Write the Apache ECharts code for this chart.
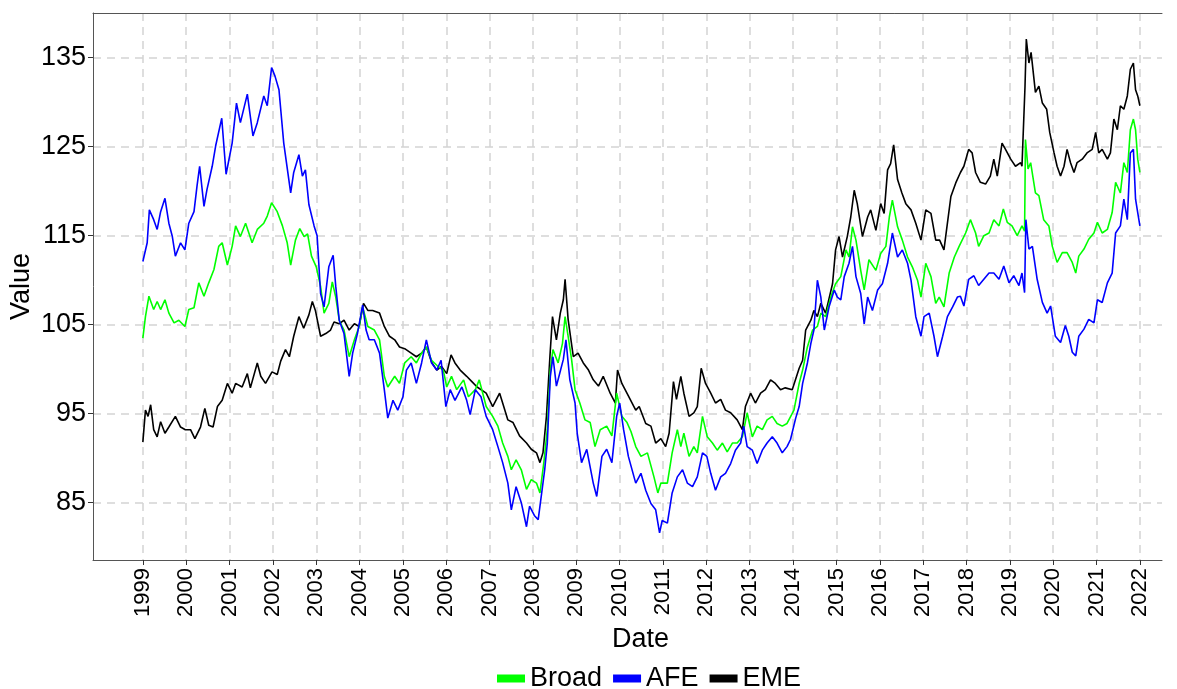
<!DOCTYPE html>
<html>
<head>
<meta charset="utf-8">
<script src="https://cdn.jsdelivr.net/npm/echarts@6/dist/echarts.min.js"></script>
<style>
  html, body { margin: 0; padding: 0; background: #fff; }
  #chart { width: 1177px; height: 689px; }
</style>
</head>
<body>
<div id="chart"></div>
<script>
// tick labels
var yearTicks = [1999, 2000, 2001, 2002, 2003, 2004, 2005, 2006, 2007, 2008, 2009, 2010,
  2011, 2012, 2013, 2014, 2015, 2016, 2017, 2018, 2019, 2020, 2021, 2022];
var valueTicks = [85, 95, 105, 115, 125, 135];

// Broad (decimal years)
var broadYears = [1999.00,1999.06,1999.14,1999.25,1999.33,1999.41,1999.51,1999.60,1999.72,1999.83,1999.97,
  2000.06,2000.18,2000.29,2000.41,2000.52,2000.64,2000.75,2000.83,2000.95,
  2001.06,2001.14,2001.25,2001.37,2001.52,2001.64,2001.79,2001.87,2001.97,
  2002.10,2002.22,2002.33,2002.41,2002.52,2002.62,2002.72,2002.80,2002.89,
  2003.00,2003.10,2003.18,2003.29,2003.37,2003.45,2003.53,2003.64,2003.76,2003.88,2003.99,
  2004.07,2004.19,2004.34,2004.46,2004.57,2004.65,2004.81,2004.92,
  2005.04,2005.19,2005.31,2005.43,2005.54,2005.66,2005.81,2005.93,
  2006.01,2006.12,2006.24,2006.40,2006.51,2006.67,2006.76,2006.92,
  2007.07,2007.19,2007.30,2007.42,2007.50,2007.61,2007.73,2007.85,2007.96,
  2008.08,2008.16,2008.25,2008.33,2008.40,2008.46,2008.58,2008.68,2008.74,2008.81,2008.89,2008.97,
  2009.08,2009.20,2009.32,2009.43,2009.55,2009.70,2009.82,2009.93,
  2010.05,2010.17,2010.26,2010.37,2010.49,2010.64,2010.79,2010.88,2010.95,
  2011.10,2011.21,2011.33,2011.41,2011.48,2011.60,2011.71,2011.79,2011.91,
  2012.02,2012.14,2012.25,2012.37,2012.48,2012.60,2012.71,2012.83,2012.94,
  2013.06,2013.17,2013.29,2013.40,2013.52,2013.63,2013.75,2013.86,
  2014.02,2014.14,2014.22,2014.33,2014.45,2014.56,2014.64,2014.75,2014.87,2014.98,
  2015.10,2015.22,2015.29,2015.37,2015.45,2015.56,2015.64,2015.75,2015.91,
  2016.02,2016.14,2016.22,2016.29,2016.41,2016.52,2016.64,2016.75,2016.87,2016.95,
  2017.06,2017.18,2017.29,2017.37,2017.48,2017.60,2017.72,2017.83,2017.98,
  2018.09,2018.21,2018.28,2018.40,2018.52,2018.63,2018.75,2018.85,2018.94,
  2019.05,2019.17,2019.28,2019.34,2019.36,2019.42,2019.48,2019.59,2019.67,2019.78,2019.90,2019.98,
  2020.09,2020.21,2020.32,2020.44,2020.52,2020.59,2020.71,2020.82,2020.94,
  2021.02,2021.13,2021.25,2021.36,2021.44,2021.55,2021.63,2021.71,2021.78,2021.85,2021.90,2021.95,2022.00];
var broadValues = [103.5,105.9,108.2,106.7,107.6,106.7,107.8,106.3,105.2,105.5,104.8,
  106.7,106.9,109.7,108.2,109.7,111.2,113.8,114.2,111.7,
  113.8,116.1,114.9,116.4,114.2,115.7,116.4,117.2,118.7,
  117.7,116.1,114.2,111.7,114.5,115.8,114.9,115.2,112.7,
  111.5,109.3,106.3,107.4,109.8,108.1,105.5,104.4,101.4,103.3,104.8,
  107.0,104.8,104.4,103.3,99.2,98.0,99.2,98.4,
  100.7,101.4,100.7,101.8,102.5,101.0,100.3,99.9,
  98.0,99.2,97.7,98.8,96.9,97.7,98.8,95.8,
  94.7,93.6,91.7,90.2,88.7,89.8,88.7,86.5,87.6,
  87.2,86.1,89.5,93.2,100.0,102.2,100.7,102.9,105.9,103.7,101.1,97.7,
  96.2,94.3,94.0,91.3,93.2,93.6,92.5,97.3,
  94.7,94.0,93.0,91.3,90.2,90.6,87.9,86.1,87.2,
  87.2,90.6,93.2,91.3,92.8,90.2,91.3,90.6,94.7,
  92.4,91.7,90.9,91.7,90.7,91.7,91.7,92.4,95.1,
  92.4,93.6,93.2,94.3,94.7,93.9,93.6,93.9,
  95.4,98.4,99.9,102.5,104.4,104.8,106.3,105.9,108.1,109.6,
  110.4,113.4,112.6,116.0,114.5,111.1,108.9,112.3,111.1,
  113.0,113.8,117.1,119.0,116.0,114.5,112.6,111.5,110.0,108.1,
  111.9,110.4,107.4,108.1,107.0,110.8,112.6,113.8,115.3,
  116.8,115.3,113.8,115.0,115.3,116.8,116.1,118.0,116.5,
  116.1,115.0,116.1,115.5,125.8,122.5,123.2,119.8,119.5,116.8,116.1,113.8,
  112.0,113.1,113.1,112.0,110.8,112.7,113.5,114.6,115.3,
  116.5,115.3,115.7,117.6,121.0,119.8,123.2,122.1,126.9,128.1,126.9,123.6,122.1];

// AFE
var afeYears = [1999.00,1999.10,1999.15,1999.25,1999.33,1999.41,1999.51,1999.60,1999.68,1999.75,1999.87,1999.97,
  2000.06,2000.18,2000.25,2000.31,2000.41,2000.48,2000.60,2000.68,2000.82,2000.92,
  2001.06,2001.16,2001.25,2001.41,2001.54,2001.64,2001.79,2001.87,2001.97,
  2002.05,2002.14,2002.25,2002.41,2002.48,2002.60,2002.68,2002.75,2002.83,2002.95,
  2003.02,2003.10,2003.18,2003.29,2003.39,2003.45,2003.53,2003.64,2003.76,2003.84,2003.95,
  2004.07,2004.15,2004.22,2004.34,2004.46,2004.57,2004.65,2004.77,2004.88,
  2005.00,2005.08,2005.19,2005.31,2005.43,2005.54,2005.66,2005.78,2005.88,2005.99,
  2006.09,2006.20,2006.36,2006.47,2006.55,2006.67,2006.80,2006.92,
  2007.07,2007.19,2007.30,2007.42,2007.50,2007.61,2007.73,2007.85,2007.92,
  2008.04,2008.12,2008.19,2008.27,2008.33,2008.40,2008.46,2008.54,2008.62,2008.70,2008.76,2008.85,2008.97,
  2009.02,2009.12,2009.24,2009.39,2009.47,2009.59,2009.70,2009.82,2009.93,
  2010.00,2010.09,2010.20,2010.37,2010.49,2010.60,2010.72,2010.83,2010.92,2010.98,
  2011.10,2011.21,2011.33,2011.45,2011.56,2011.68,2011.79,2011.91,
  2012.01,2012.10,2012.21,2012.33,2012.44,2012.56,2012.67,2012.79,2012.86,2012.94,
  2013.06,2013.17,2013.29,2013.40,2013.52,2013.63,2013.75,2013.86,2013.94,
  2014.06,2014.14,2014.22,2014.33,2014.41,2014.48,2014.56,2014.64,2014.72,2014.83,2014.95,
  2015.02,2015.10,2015.18,2015.29,2015.37,2015.45,2015.56,2015.64,2015.72,2015.83,2015.95,
  2016.06,2016.18,2016.29,2016.41,2016.52,2016.64,2016.72,2016.83,2016.95,
  2017.02,2017.14,2017.25,2017.33,2017.45,2017.56,2017.68,2017.79,2017.86,2017.94,
  2018.05,2018.17,2018.28,2018.40,2018.52,2018.63,2018.75,2018.86,2018.98,
  2019.09,2019.21,2019.28,2019.34,2019.37,2019.44,2019.52,2019.63,2019.75,2019.86,2019.94,
  2020.05,2020.17,2020.28,2020.36,2020.44,2020.52,2020.59,2020.71,2020.82,2020.94,
  2021.02,2021.13,2021.25,2021.36,2021.44,2021.55,2021.63,2021.71,2021.78,2021.85,2021.90,2021.95,2022.00];
var afeValues = [112.1,114.2,117.9,116.8,115.7,117.7,119.2,116.4,114.9,112.7,114.2,113.4,
  116.4,117.7,120.6,122.8,118.3,120.2,122.8,125.1,128.2,121.9,
  125.4,129.9,127.7,130.9,126.2,127.7,130.7,129.6,133.9,
  132.9,131.4,125.4,119.8,122.1,124.1,121.7,122.4,118.5,116.1,
  115.0,108.5,107.0,111.5,112.8,109.3,105.5,104.0,99.2,101.8,104.0,
  107.2,104.4,103.3,103.3,101.8,97.7,94.5,96.5,95.4,
  96.9,99.9,100.7,98.4,100.7,103.3,100.7,99.9,101.0,95.8,
  97.7,96.5,98.0,96.5,94.9,97.7,96.9,94.7,
  93.2,91.3,89.5,87.2,84.2,86.8,85.0,82.3,84.6,
  83.5,83.1,85.7,88.7,91.7,99.2,101.4,98.1,99.6,101.1,103.3,98.8,96.2,
  92.8,89.5,91.0,87.2,85.7,90.2,91.0,89.5,94.7,
  96.2,93.2,90.2,87.2,88.3,86.4,84.9,84.2,81.6,83.0,
  82.7,86.1,87.9,88.7,87.2,86.8,87.9,90.6,
  90.2,88.3,86.4,87.9,88.3,89.4,90.9,91.7,93.6,91.3,
  90.9,89.4,90.9,91.7,92.4,91.7,90.6,91.3,92.1,
  94.5,95.8,98.4,100.7,102.9,104.4,110.0,108.1,104.4,107.0,108.9,
  108.1,107.8,110.4,111.9,113.8,110.4,108.5,105.1,108.1,106.6,108.9,
  109.6,111.9,115.3,112.6,113.4,111.9,110.0,105.9,103.7,
  105.9,106.3,103.7,101.4,103.7,105.9,107.0,108.1,108.2,107.1,
  110.1,110.5,109.4,110.1,110.8,110.8,110.1,111.6,109.7,
  110.5,109.4,110.8,108.6,116.8,113.5,113.8,110.1,107.5,106.3,107.1,
  103.7,103.0,104.9,103.7,101.9,101.5,103.7,104.5,105.6,105.2,
  107.8,107.5,109.7,110.8,115.3,116.1,119.1,116.8,124.3,124.7,119.1,117.6,116.1];

// EME
var emeYears = [1999.00,1999.06,1999.12,1999.18,1999.25,1999.33,1999.41,1999.51,1999.60,1999.75,1999.87,1999.98,
  2000.10,2000.20,2000.33,2000.43,2000.52,2000.62,2000.72,2000.83,2000.95,
  2001.06,2001.14,2001.29,2001.41,2001.48,2001.64,2001.72,2001.83,2001.98,
  2002.10,2002.18,2002.29,2002.38,2002.48,2002.60,2002.71,2002.83,2002.91,2002.98,
  2003.10,2003.22,2003.33,2003.41,2003.53,2003.64,2003.76,2003.88,2003.99,
  2004.09,2004.19,2004.30,2004.46,2004.57,2004.69,2004.81,2004.92,
  2005.04,2005.19,2005.31,2005.43,2005.54,2005.66,2005.78,2005.89,
  2006.01,2006.11,2006.20,2006.32,2006.47,2006.59,2006.71,2006.92,
  2007.07,2007.23,2007.30,2007.42,2007.54,2007.69,2007.85,2007.96,
  2008.08,2008.16,2008.23,2008.31,2008.39,2008.45,2008.54,2008.63,2008.70,2008.74,2008.81,2008.93,
  2009.04,2009.16,2009.28,2009.39,2009.51,2009.62,2009.78,2009.90,2009.95,
  2010.05,2010.20,2010.37,2010.45,2010.60,2010.72,2010.83,2010.95,
  2011.06,2011.14,2011.24,2011.31,2011.41,2011.48,2011.60,2011.71,2011.79,2011.88,2011.98,
  2012.10,2012.21,2012.33,2012.44,2012.56,2012.71,2012.83,2012.90,
  2013.02,2013.13,2013.25,2013.36,2013.48,2013.59,2013.71,2013.82,2013.98,
  2014.14,2014.22,2014.29,2014.41,2014.48,2014.56,2014.64,2014.75,2014.91,2014.98,
  2015.06,2015.14,2015.25,2015.33,2015.41,2015.48,2015.60,2015.72,2015.79,2015.91,
  2016.02,2016.10,2016.18,2016.25,2016.32,2016.41,2016.51,2016.60,2016.72,2016.83,2016.95,
  2017.06,2017.18,2017.29,2017.38,2017.48,2017.56,2017.64,2017.75,2017.86,2017.94,
  2018.05,2018.13,2018.21,2018.32,2018.44,2018.55,2018.63,2018.71,2018.82,2018.90,
  2019.02,2019.13,2019.25,2019.28,2019.35,2019.38,2019.44,2019.49,2019.59,2019.67,2019.75,2019.85,2019.92,
  2020.02,2020.09,2020.17,2020.25,2020.32,2020.40,2020.48,2020.55,2020.67,2020.78,2020.90,2020.98,
  2021.05,2021.13,2021.25,2021.32,2021.40,2021.48,2021.55,2021.63,2021.71,2021.78,2021.85,2021.90,2021.95,2022.00];
var emeValues = [91.8,95.4,94.7,96.0,93.2,92.4,94.1,92.8,93.5,94.7,93.5,93.2,
  93.2,92.2,93.5,95.6,93.7,93.5,95.8,96.5,98.4,
  97.3,98.4,98.0,99.5,97.9,100.7,99.2,98.4,99.7,
  99.4,100.9,102.2,101.4,103.7,105.9,104.6,106.1,107.6,106.6,
  103.7,104.0,104.4,105.3,105.1,105.5,104.4,105.1,104.8,
  107.4,106.6,106.6,106.3,104.8,103.7,103.3,102.5,
  102.3,101.8,101.4,101.8,102.5,100.8,99.9,100.3,
  99.5,101.6,100.7,99.9,99.2,98.6,98.0,97.3,
  95.8,97.3,96.2,94.3,94.0,92.5,91.7,91.0,
  90.6,89.5,90.6,94.7,101.4,105.9,103.3,106.3,107.8,110.1,105.6,101.4,
  101.8,100.7,99.9,98.8,98.1,99.2,97.3,96.2,99.9,
  98.4,97.0,95.4,95.8,93.9,93.6,91.7,92.2,
  91.3,92.8,98.6,96.6,99.2,97.3,94.7,95.1,95.8,100.1,98.4,
  97.3,96.2,96.6,95.4,95.1,94.3,93.2,95.8,
  97.3,96.2,97.3,97.7,98.8,98.4,97.7,97.9,97.7,
  100.1,101.0,104.4,105.5,106.6,105.9,107.4,106.3,109.6,113.4,
  114.9,112.6,114.9,117.1,120.1,118.6,114.9,117.1,117.9,115.6,
  118.6,117.5,122.4,123.1,125.2,121.3,119.8,118.6,117.9,116.4,114.5,
  117.9,117.5,114.5,114.5,113.4,116.4,119.4,120.9,122.1,122.8,
  124.7,124.3,122.1,121.0,120.8,121.7,123.6,121.7,125.4,124.7,
  123.6,122.8,123.2,122.8,131.8,137.1,134.4,135.6,131.1,131.8,129.9,129.2,126.6,
  124.3,122.8,121.7,122.8,124.7,123.2,122.1,123.2,123.6,124.3,124.7,126.6,
  124.3,124.7,123.6,124.3,128.1,126.9,129.6,129.2,130.7,133.7,134.4,131.4,130.7,129.6];

var fontFam = '"Liberation Sans", Arial, sans-serif';

function pairs(xs, ys) {
  var out = [];
  for (var i = 0; i < xs.length; i++) {
    out.push([xs[i], ys[i]]);
  }
  return out;
}

var myChart = echarts.init(document.getElementById("chart"), null, { renderer: "canvas" });
var option = {
  animation: false,
  backgroundColor: "#fff",
  textStyle: { fontFamily: fontFam },
  grid: { left: 93, right: 15, top: 13, bottom: 129, containLabel: false, outerBoundsMode: "none" },
  legend: {
    data: [
      { name: "Broad", icon: "rect" },
      { name: "AFE", icon: "rect" },
      { name: "EME", icon: "rect" }
    ],
    left: 492,
    top: 660,
    itemWidth: 28,
    itemHeight: 8,
    itemGap: 11,
    textStyle: { fontSize: 27, color: "#000", fontFamily: fontFam, padding: [0, 0, 0, 0] }
  },
  xAxis: [
    {
      type: "value",
      min: 1997.85,
      max: 2022.51,
      name: "Date",
      nameLocation: "middle",
      nameGap: 66,
      nameMoveOverlap: false,
      nameTextStyle: { fontSize: 27, color: "#000", fontFamily: fontFam, padding: [0, 0, 0, 26] },
      axisLine: { show: true, lineStyle: { color: "#555", width: 1 } },
      axisTick: { show: true, length: 5, customValues: yearTicks, lineStyle: { color: "#333" } },
      axisLabel: {
        customValues: yearTicks,
        rotate: 90,
        margin: 8,
        fontSize: 22,
        color: "#000",
        fontFamily: fontFam,
        formatter: function (v) { return String(v); }
      },
      splitLine: { show: true, lineStyle: { color: "#d3d3d3", width: 1.5, type: [8, 6] } }
    },
    {
      type: "value",
      position: "top",
      min: 1997.85,
      max: 2022.51,
      axisLine: { show: true, lineStyle: { color: "#555", width: 1 } },
      axisTick: { show: false },
      axisLabel: { show: false },
      splitLine: { show: false }
    }
  ],
  yAxis: {
    type: "value",
    min: 78.56,
    max: 140.02,
    name: "Value",
    nameLocation: "middle",
    nameGap: 58,
    nameMoveOverlap: false,
    nameTextStyle: { fontSize: 27, color: "#000", fontFamily: fontFam },
    axisLine: { show: true, lineStyle: { color: "#555", width: 1 } },
    axisTick: { show: true, length: 5, customValues: valueTicks, lineStyle: { color: "#333" } },
    axisLabel: {
      customValues: valueTicks,
      fontSize: 27,
      color: "#000",
      margin: 7,
      fontFamily: fontFam
    },
    splitLine: { show: true, lineStyle: { color: "#d3d3d3", width: 1.5, type: [8, 6] } }
  },
  series: [
    {
      name: "EME",
      type: "line",
      data: pairs(emeYears, emeValues),
      showSymbol: false,
      color: "#000000",
      lineStyle: { width: 1.6, color: "#000000" }
    },
    {
      name: "Broad",
      type: "line",
      data: pairs(broadYears, broadValues),
      showSymbol: false,
      color: "#00ff00",
      lineStyle: { width: 1.6, color: "#00ff00" }
    },
    {
      name: "AFE",
      type: "line",
      data: pairs(afeYears, afeValues),
      showSymbol: false,
      color: "#0000ff",
      lineStyle: { width: 1.6, color: "#0000ff" }
    }
  ]
};
myChart.setOption(option);
</script>
</body>
</html>
